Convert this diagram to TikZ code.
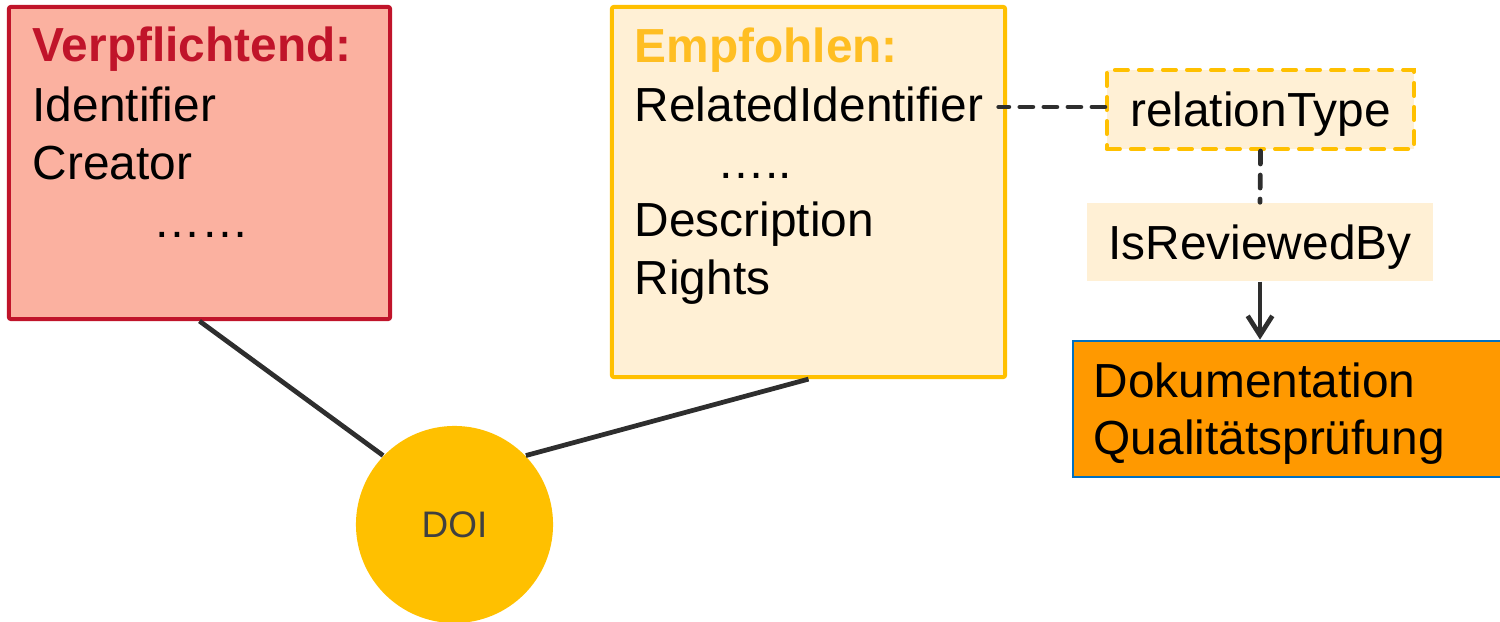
\documentclass[tikz,border=0pt]{standalone}
\usepackage{fontspec}
\setmainfont{Liberation Sans}
\usetikzlibrary{arrows.meta}
\definecolor{redline}{HTML}{C0142A}
\definecolor{redfill}{HTML}{FBB1A0}
\definecolor{yelline}{HTML}{FFC000}
\definecolor{yeltitle}{HTML}{FFBE22}
\definecolor{yelfill}{HTML}{FFF0D5}
\definecolor{orfill}{HTML}{FF9900}
\definecolor{blueline}{HTML}{0070C0}
\definecolor{lineg}{HTML}{2E2E2E}
\definecolor{doitext}{HTML}{404040}
\begin{document}
\begin{tikzpicture}[x=0.01cm,y=-0.01cm,
  txt/.style={anchor=base west, inner sep=0, font=\fontsize{13.6}{16}\selectfont},
  ttl/.style={anchor=base west, inner sep=0, font=\fontsize{13.6}{16}\selectfont\bfseries},
  box/.style={draw, line width=1.14pt, inner sep=0, rounded corners=0.6pt},
  conn/.style={draw=lineg, line width=1.35pt},
  dsh/.style={dash pattern=on 0.13cm off 0.11cm, line cap=round},
  ctr/.style={inner sep=0, text height=9.7pt, text depth=0pt, font=\fontsize{13.6}{16}\selectfont}]
\useasboundingbox (0,0) rectangle (1500,622);
\clip (0,0) rectangle (1500,622);

% boxes
\node[box, draw=redline, fill=redfill, minimum width=3.81cm, minimum height=3.12cm] (red) at (199.5,163) {};
\node[box, draw=yelline, fill=yelfill, minimum width=3.93cm, minimum height=3.70cm] (yel) at (808.5,192) {};
\node[ctr, draw=yelline, fill=yelfill, line width=1.14pt, dsh, minimum width=3.07cm, minimum height=0.79cm] (rt) at (1260.5,109.5) {relationType};
\node[ctr, fill=yelfill, minimum width=3.46cm, minimum height=0.78cm] (rb) at (1260,242) {IsReviewedBy};
\node[draw=blueline, fill=orfill, line width=0.75pt, inner sep=0, minimum width=4.37cm, minimum height=1.36cm] (or) at (1291.5,409) {};
\node[circle, fill=yelline, inner sep=0, minimum size=1.97cm, text=doitext, text height=7.5pt, text depth=0pt, font=\fontsize{10.5}{12}\selectfont] (doi) at (454.5,524.5) {DOI};

% red box text
\node[ttl, text=redline] (vt) at (32,62) {Verpflichtend:};
\node[txt] (id) at (32,122) {Identifier};
\node[txt] (cr) at (32,180) {Creator};
\node[txt] (rd) at (153,238) {……};

% yellow box text
\node[ttl, text=yeltitle] (et) at (634,63) {Empfohlen:};
\node[txt] (ri) at (634,122) {RelatedIdentifier};
\node[txt] (yd) at (717,179) {…..};
\node[txt] (de) at (634,237) {Description};
\node[txt] (rg) at (634,295) {Rights};

% orange box text
\node[txt] (dk) at (1093,398) {Dokumentation};
\node[txt] (qp) at (1093,455) {Qualitätsprüfung};

% connectors
\draw[conn] (red.south) -- (doi.136);
\draw[conn] (yel.south) -- (doi.44);
\coordinate (riend) at ([xshift=0.15cm]ri.east);
\draw[conn, dsh] ([yshift=0.025cm]rt.west) -- ([yshift=0.025cm]rt.west -| riend);
\draw[conn, dsh] (rt.south) -- (rb.north);
\draw[conn, -{Straight Barb[length=5.5pt, width=7pt]}] (rb.south) -- (rb.south |- or.north);
\end{tikzpicture}
\end{document}
